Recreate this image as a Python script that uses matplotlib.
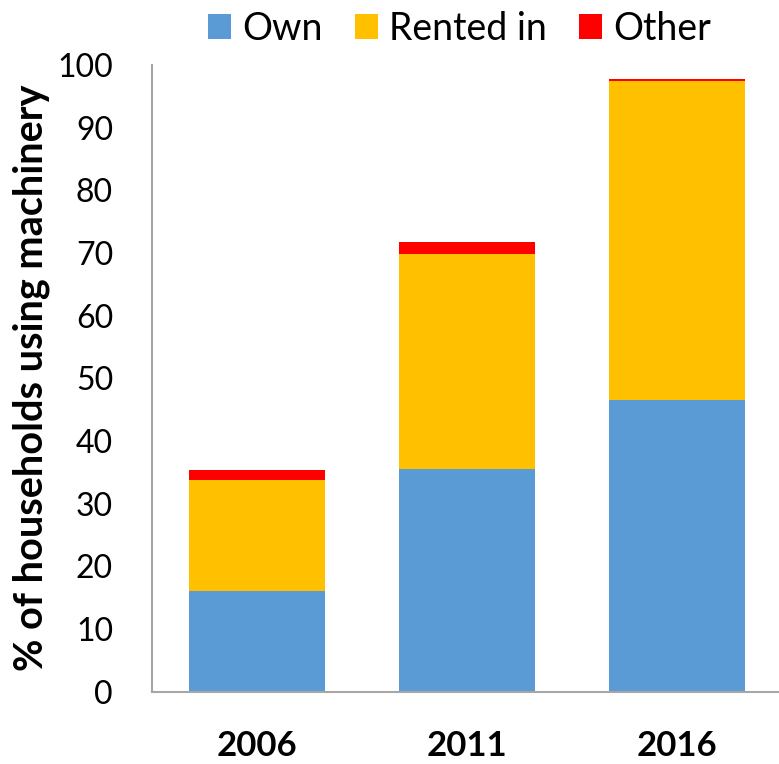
import matplotlib
matplotlib.use("Agg")
import matplotlib.pyplot as plt
import numpy as np

# values (% of households)
years = ["2006", "2011", "2016"]
own = [16.0, 35.5, 46.5]
rented_in = [17.8, 34.4, 51.0]
other = [1.6, 1.9, 0.2]

series_names = ["Own", "Rented in", "Other"]
colors = ["#5B9BD5", "#FFC000", "#FF0000"]

plt.rcParams["font.family"] = ["Lato", "DejaVu Sans"]

fig = plt.figure(figsize=(7.79, 7.64), dpi=100)
ax = fig.add_axes([152 / 779, 72.5 / 764, 627 / 779, 626.5 / 764])

x = np.arange(len(years))
width = 0.648
bottom = np.zeros(len(years))
handles = []
for name, vals, col in zip(series_names, [own, rented_in, other], colors):
    b = ax.bar(x, vals, width, bottom=bottom, color=col, label=name, linewidth=0)
    handles.append(b)
    bottom = bottom + np.array(vals)

ax.set_xlim(-0.5, 2.485)
ax.set_ylim(0, 100)
ax.set_yticks(np.arange(0, 101, 10))
ax.set_xticks(x)
ax.set_xticklabels(years, fontsize=25, fontweight="bold")
ax.tick_params(axis="y", length=0, pad=28, labelsize=23)
ax.tick_params(axis="x", length=0, pad=28)

for s in ["top", "right"]:
    ax.spines[s].set_visible(False)
for s in ["left", "bottom"]:
    ax.spines[s].set_color("#A6A6A6")
    ax.spines[s].set_linewidth(1.5)

ax.set_ylabel("% of households using machinery", fontsize=28.5, fontweight="bold", labelpad=5)

fig.legend(handles=handles, labels=series_names, loc="upper center",
           bbox_to_anchor=(0.59, 1.03), ncol=3, frameon=False, fontsize=27,
           handlelength=0.62, handleheight=0.62, handletextpad=0.3,
           columnspacing=0.85)

fig.savefig("out.png", dpi=100)
